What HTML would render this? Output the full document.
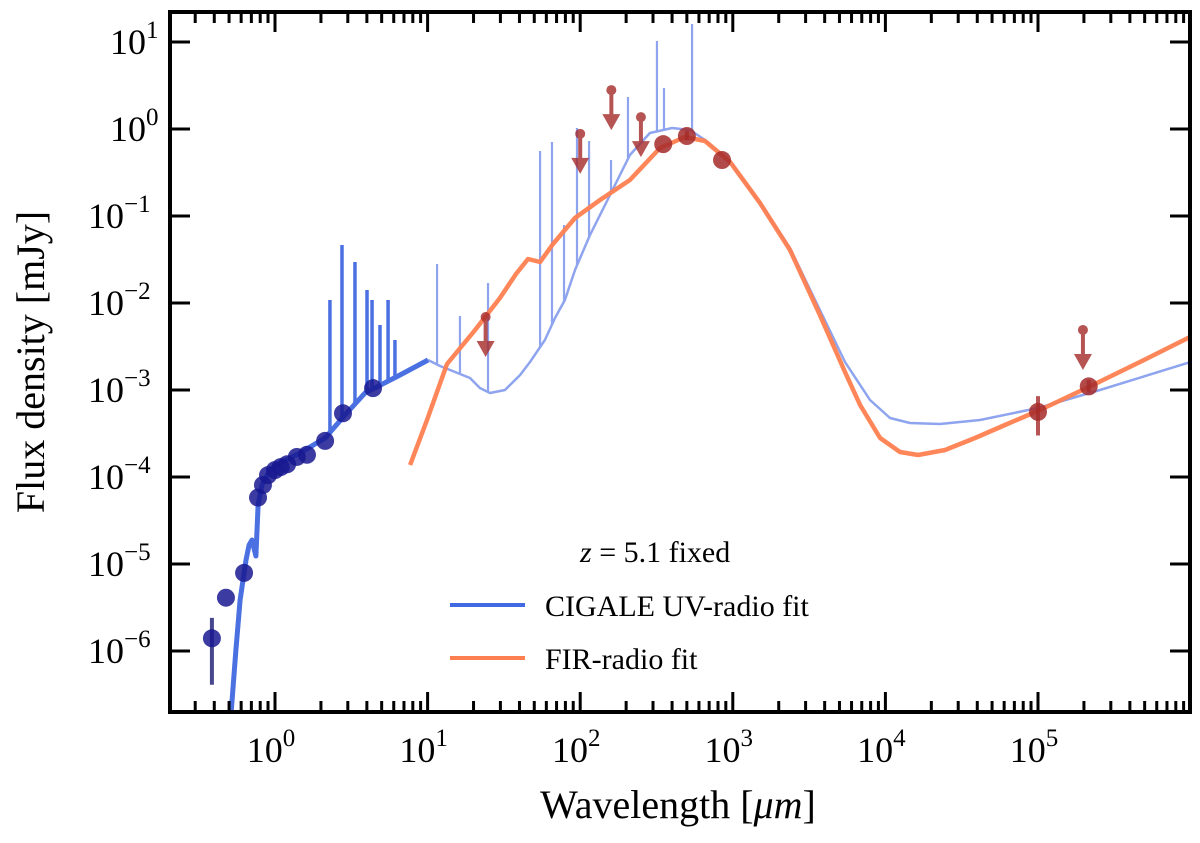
<!DOCTYPE html>
<html><head><meta charset="utf-8"><style>
html,body{margin:0;padding:0;background:#fff;}
svg{display:block;font-family:"Liberation Serif",serif;}
</style></head><body>
<svg id="chart" width="1200" height="843" viewBox="0 0 1200 843" xmlns="http://www.w3.org/2000/svg">
<rect x="0" y="0" width="1200" height="843" fill="#fff"/>
<defs><clipPath id="clip"><rect x="170" y="12" width="1020" height="700"/></clipPath></defs>
<g id="plot" clip-path="url(#clip)"></g>
<g id="axes"></g>
<g id="legend">
<text x="580" y="562" font-size="30"><tspan font-style="italic">z</tspan> = 5.1 fixed</text>
<line x1="450" y1="605" x2="525" y2="605" stroke="#4169e1" stroke-width="4"/>
<text x="545" y="616" font-size="30">CIGALE UV-radio fit</text>
<line x1="450" y1="658" x2="525" y2="658" stroke="#ff7f50" stroke-width="4"/>
<text x="545" y="669" font-size="30">FIR-radio fit</text>
</g>
<text x="678" y="818" font-size="40" text-anchor="middle">Wavelength [<tspan font-style="italic">μm</tspan>]</text>
<text transform="translate(44,362) rotate(-90)" font-size="40" text-anchor="middle">Flux density [mJy]</text>
</svg>
<script>
// ---- data (log10 wavelength in µm, log10 flux in mJy) ----
const cigaleUvLogWave = [-0.30,-0.256,-0.229,-0.190,-0.170,-0.151,-0.125,-0.111,-0.085,-0.033,0.033,0.164,0.328,0.459,0.590,0.819,1.003];
const cigaleUvLogFlux = [-7.0,-5.989,-5.414,-4.954,-4.782,-4.724,-4.908,-4.322,-4.092,-3.920,-3.839,-3.724,-3.552,-3.287,-3.034,-2.828,-2.655];
const cigaleIrLogWave = [1.003,1.081,1.180,1.278,1.343,1.409,1.507,1.606,1.671,1.769,1.835,1.900,1.966,2.064,2.195,2.326,2.457,2.602,2.720,2.818,2.982,3.178,3.375,3.571,3.735,3.899,4.030,4.161,4.358,4.620,5.000,5.406,6.000];
const cigaleIrLogFlux = [-2.655,-2.724,-2.793,-2.862,-2.977,-3.034,-3.000,-2.828,-2.678,-2.425,-2.172,-1.966,-1.621,-1.218,-0.759,-0.299,-0.046,0.011,-0.011,-0.126,-0.379,-0.851,-1.368,-2.080,-2.678,-3.115,-3.322,-3.379,-3.391,-3.345,-3.207,-3.000,-2.678];
const uvLineLogWave = [0.360,0.439,0.524,0.603,0.636,0.688,0.741,0.786];
const uvLineLogTop = [-1.966,-1.333,-1.529,-1.851,-1.966,-2.253,-1.966,-2.425];
const irLineLogWave = [1.062,1.212,1.396,1.737,1.815,1.894,1.979,2.058,2.202,2.313,2.503,2.549,2.733];
const irLineLogTop = [-1.552,-2.149,-1.770,-0.253,-0.149,-1.103,0.011,-0.138,-0.356,0.368,1.011,0.471,1.207];
const firLogWave = [0.885,0.996,1.127,1.311,1.474,1.579,1.658,1.737,1.822,1.966,2.130,2.326,2.523,2.687,2.818,2.982,3.178,3.375,3.571,3.735,3.834,3.965,4.096,4.214,4.391,4.587,4.784,5.013,5.360,5.668,5.996];
const firLogFlux = [-3.862,-3.345,-2.701,-2.310,-1.943,-1.667,-1.494,-1.529,-1.322,-1.023,-0.816,-0.586,-0.218,-0.092,-0.138,-0.379,-0.851,-1.391,-2.138,-2.793,-3.172,-3.552,-3.713,-3.747,-3.690,-3.552,-3.402,-3.230,-2.943,-2.678,-2.391];
const optWave = [0.386,0.477,0.627,0.774,0.834,0.9,1.0,1.09,1.2,1.39,1.62,2.13,2.79,4.39];
const optFlux = [1.4e-6,4.1e-6,7.9e-6,5.8e-5,8.1e-5,1.05e-4,1.2e-4,1.3e-4,1.4e-4,1.7e-4,1.8e-4,2.6e-4,5.4e-4,1.05e-3];
const optErrLo = [4.1e-7,0,0,0,0,0,0,0,0,0,0,0,0,0];
const optErrHi = [2.4e-6,0,0,0,0,0,0,0,0,0,0,0,0,0];
const firWave = [350,500,850,1.0e5,2.15e5];
const firFlux = [0.67,0.83,0.44,5.6e-4,1.1e-3];
const firErrLo = [0.67,0.74,0.44,3.0e-4,0.95e-3];
const firErrHi = [0.67,0.95,0.44,8.5e-4,1.3e-3];
const limWave = [24,100,160,250,1.97e5];
const limFlux = [6.9e-3,0.88,2.8,1.37,4.9e-3];
const xTickExp = [0,1,2,3,4,5];
const yTickExp = [1,0,-1,-2,-3,-4,-5,-6];

// ---- axes ----
const X0=275, XD=152.6, Y0=129, YD=87;
const L=170,R=1190,T=12,B=712;
const lx = v => X0 + XD*v;
const ly = v => Y0 - YD*v;
const x = v => lx(Math.log10(v));
const y = v => ly(Math.log10(v));
const NS="http://www.w3.org/2000/svg";
function mk(tag, attrs, parent){const e=document.createElementNS(NS,tag);for(const k in attrs)e.setAttribute(k,attrs[k]);parent.appendChild(e);return e;}
const plot=document.getElementById('plot'), axes=document.getElementById('axes');

function pathFrom(ax, ay){return ax.map((v,i)=>(i?'L':'M')+lx(v).toFixed(1)+','+ly(ay[i]).toFixed(1)).join(' ');}

let p=mk('path',{d:pathFrom(cigaleIrLogWave,cigaleIrLogFlux),fill:'none',stroke:'#8ea4ee','stroke-width':2.5,'stroke-linejoin':'round'},plot);


function interp(xs,ys,v){for(let i=1;i<xs.length;i++){if(v<=xs[i]){const t=(v-xs[i-1])/(xs[i]-xs[i-1]);return ys[i-1]+t*(ys[i]-ys[i-1]);}}return ys[ys.length-1];}
irLineLogWave.forEach((v,i)=>{
  const l=mk('line',{x1:lx(v),x2:lx(v),y1:ly(interp(cigaleIrLogWave,cigaleIrLogFlux,v)),y2:ly(irLineLogTop[i]),stroke:'#8ea4ee','stroke-width':2.2},plot);
  
  
});
p=mk('path',{d:pathFrom(cigaleUvLogWave,cigaleUvLogFlux),fill:'none',stroke:'#4a70e2','stroke-width':5,'stroke-linejoin':'round'},plot);


uvLineLogWave.forEach((v,i)=>{
  const l=mk('line',{x1:lx(v),x2:lx(v),y1:ly(interp(cigaleUvLogWave,cigaleUvLogFlux,v)),y2:ly(uvLineLogTop[i]),stroke:'#4a70e2','stroke-width':3.5},plot);
  
  
});
p=mk('path',{d:pathFrom(firLogWave,firLogFlux),fill:'none',stroke:'#ff7f50','stroke-width':4.5,'stroke-linejoin':'round','stroke-opacity':0.95},plot);



optWave.forEach((w,i)=>{
  if(optErrHi[i]>0){const e=mk('line',{x1:x(w),x2:x(w),y1:y(optErrLo[i]),y2:y(optErrHi[i]),stroke:'#191970','stroke-opacity':0.8,'stroke-width':4},plot);
  
  }
  const c=mk('circle',{cx:x(w),cy:y(optFlux[i]),r:9,fill:'#191990','fill-opacity':0.85},plot);
  
  
});
firWave.forEach((w,i)=>{
  const e=mk('line',{x1:x(w),x2:x(w),y1:y(firErrLo[i]),y2:y(firErrHi[i]),stroke:'#a52a2a','stroke-opacity':0.8,'stroke-width':4},plot);
  
  
  const c=mk('circle',{cx:x(w),cy:y(firFlux[i]),r:9,fill:'#a52a2a','fill-opacity':0.85},plot);
  
  
});
limWave.forEach((w,i)=>{
  const cx=x(w), cy=y(limFlux[i]);
  const g=mk('g',{opacity:0.8},plot);
  
  
  mk('circle',{cx:cx,cy:cy,r:5,fill:'#a52a2a'},g);
  mk('line',{x1:cx,x2:cx,y1:cy,y2:cy+28,stroke:'#a52a2a','stroke-width':4},g);
  mk('polygon',{points:`${cx-9},${cy+24} ${cx+9},${cy+24} ${cx},${cy+40}`,fill:'#a52a2a'},g);
});

// ticks
const xmin=(L-X0)/XD, xmax=(R-X0)/XD;
for(let d=-1; d<=6; d++){
  for(let m=1;m<10;m++){
    const v=d+Math.log10(m); if(v<xmin||v>xmax) continue;
    const px=lx(v), len=m===1?20:11;
    mk('line',{x1:px,x2:px,y1:B,y2:B-len,stroke:'#000','stroke-width':3},axes);
    mk('line',{x1:px,x2:px,y1:T,y2:T+len,stroke:'#000','stroke-width':3},axes);
  }
}
xTickExp.forEach(e=>{
  const t=mk('text',{x:lx(e)-4,y:762,'font-size':36,'text-anchor':'middle'},axes);
  
  
  t.innerHTML=`10<tspan dy="-16" font-size="25">${e}</tspan>`;
});
yTickExp.forEach(e=>{
  const py=ly(e);
  mk('line',{x1:L,x2:L+20,y1:py,y2:py,stroke:'#000','stroke-width':3},axes);
  mk('line',{x1:R,x2:R-20,y1:py,y2:py,stroke:'#000','stroke-width':3},axes);
  const t=mk('text',{x:e<0?88:110,y:py+12,'font-size':36,'text-anchor':'start'},axes);
  
  
  t.innerHTML=`10<tspan dy="-16" font-size="25">${e<0?'−'+(-e):e}</tspan>`;
});
const fr=mk('rect',{x:L,y:T,width:R-L,height:B-T,fill:'none',stroke:'#000','stroke-width':4},axes);


</script>
</body></html>
